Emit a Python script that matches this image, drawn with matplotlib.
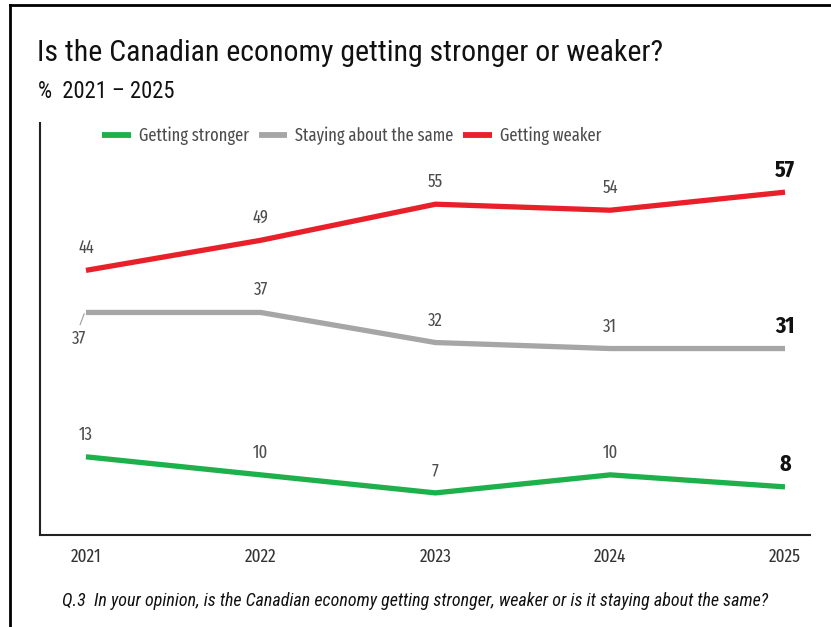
import matplotlib
matplotlib.use("Agg")
import matplotlib.pyplot as plt
from matplotlib.lines import Line2D

years = ["2021", "2022", "2023", "2024", "2025"]
stronger = [13, 10, 7, 10, 8]
same = [37, 37, 32, 31, 31]
weaker = [44, 49, 55, 54, 57]

series_names = ["Getting stronger", "Staying about the same", "Getting weaker"]
colors = ["#1DB04B", "#A6A6A6", "#E8202A"]

head_font = ["Roboto Condensed", "Archivo Narrow", "DejaVu Sans"]
body_font = ["Fira Sans Extra Condensed", "PT Sans Narrow", "DejaVu Sans"]
body_weight = "normal"
label_color = "#4d4d4d"

W, H = 831, 627
fig = plt.figure(figsize=(W / 100, H / 100), dpi=100)
fig.patch.set_facecolor("white")
renderer = fig.canvas.get_renderer()


def fit_width(text_obj, target_px):
    """Scale a text's font size so that it spans target_px pixels."""
    w = text_obj.get_window_extent(renderer=renderer).width
    text_obj.set_fontsize(text_obj.get_fontsize() * target_px / w)


def size_for(sample, family, target_px, weight="normal"):
    t = fig.text(0, 0, sample, family=family, fontsize=12, fontweight=weight)
    w = t.get_window_extent(renderer=renderer).width
    t.remove()
    return 12 * target_px / w


# page frame: top and left rules
fig.add_artist(Line2D([10 / W, 1], [1 - 5 / H, 1 - 5 / H], color="black", lw=2, transform=fig.transFigure))
fig.add_artist(Line2D([10 / W, 10 / W], [0, 1 - 5 / H], color="black", lw=2, transform=fig.transFigure))

title = fig.text(37 / W, 1 - 53 / H, "Is the Canadian economy getting stronger or weaker?",
                 fontsize=20, family=head_font, va="center", ha="left", color="#111111")
fit_width(title, 625)
sub = fig.text(38 / W, 1 - 92 / H, "%  2021 \u2013 2025",
               fontsize=16, family=head_font, va="center", ha="left", color="#111111")
fit_width(sub, 137)
foot = fig.text(62 / W, 1 - 601 / H,
                "Q.3  In your opinion, is the Canadian economy getting stronger, weaker or is it staying about the same?",
                fontsize=12, family=head_font, style="italic", va="center", ha="left", color="#111111")
fit_width(foot, 703)

legend_size = size_for("Getting stronger", body_font, 110, weight=body_weight)
tick_size = size_for("2021", body_font, 31, weight=body_weight)
value_size = size_for("44", body_font, 16, weight=body_weight)
bold_size = size_for("57", body_font, 20, weight="bold")

ax = fig.add_axes([40 / W, 1 - 535 / H, (810 - 40) / W, (535 - 123) / H])
x = list(range(len(years)))

for vals, name, c in zip([stronger, same, weaker], series_names, colors):
    ax.plot(x, vals, color=c, lw=3.8, solid_joinstyle="round", solid_capstyle="butt", label=name)

ax.set_xlim(-0.263, 4.143)
ax.set_ylim(0, 68.5)

for vals, name in zip([stronger, same, weaker], series_names):
    for i, v in enumerate(vals):
        last = i == len(vals) - 1
        if name == "Staying about the same" and i == 0:
            # this label sits below the line with a short leader
            ax.annotate("", xy=(i - 0.01, v - 0.2), xytext=(-3, -8), textcoords="offset points",
                        arrowprops=dict(arrowstyle="-", color="#9a9a9a", lw=0.8, shrinkA=0, shrinkB=0))
            ax.annotate(str(v), xy=(i, v), xytext=(-5, -19), textcoords="offset points",
                        ha="center", va="center", fontsize=value_size, family=body_font,
                        fontweight=body_weight, color=label_color)
            continue
        ax.annotate(str(v), xy=(i, v), xytext=(0, 16), textcoords="offset points",
                    ha="center", va="center", fontsize=bold_size if last else value_size,
                    family=body_font, color="#111111" if last else label_color,
                    fontweight="bold" if last else body_weight)

ax.set_xticks(x)
ax.set_xticklabels(years, family=body_font, fontsize=tick_size, fontweight=body_weight, color="#333333")
ax.tick_params(axis="x", length=0, pad=9)
ax.set_yticks([])
for s in ["top", "right"]:
    ax.spines[s].set_visible(False)
for s in ["left", "bottom"]:
    ax.spines[s].set_color("#222222")
    ax.spines[s].set_linewidth(1.5)

leg = ax.legend(loc="center left", bbox_to_anchor=(62 / 770, 1 - 13 / 412), ncol=3, frameon=False,
                prop={"family": body_font, "size": legend_size, "weight": body_weight},
                handlelength=1.6, handletextpad=0.45, columnspacing=0.55, borderaxespad=0, borderpad=0)
for t in leg.get_texts():
    t.set_color(label_color)
for h in leg.get_lines():
    h.set_linewidth(4.2)

fig.savefig("out.png", dpi=100, facecolor="white")
